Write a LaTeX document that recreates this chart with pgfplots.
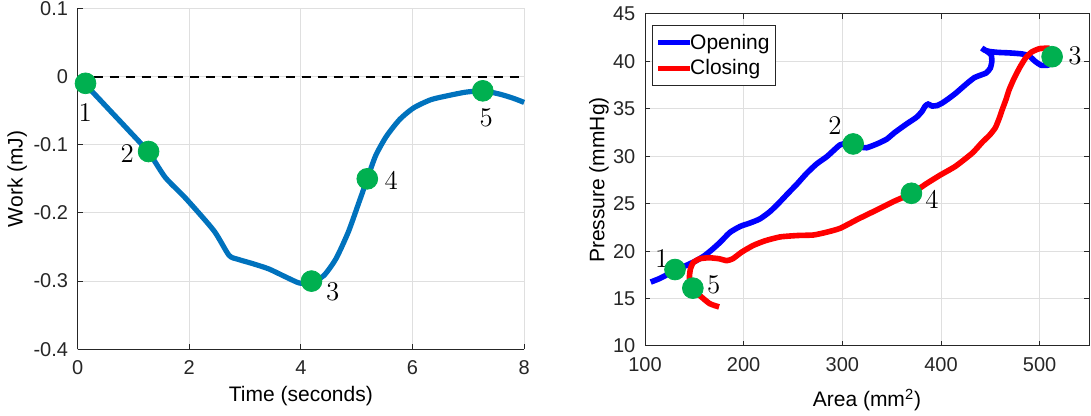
\documentclass[border=0pt]{standalone}
\usepackage{pgfplots}
\pgfplotsset{compat=1.18}
\usepackage{fontspec}
\setsansfont{Liberation Sans}
\definecolor{mblue}{RGB}{0,114,189}
\definecolor{mgreen}{RGB}{0,176,80}
\definecolor{axc}{RGB}{38,38,38}
\definecolor{gridc}{RGB}{223,223,223}
\begin{document}
\begin{tikzpicture}
\useasboundingbox (0,0) rectangle (545.5pt,208pt);
\pgfplotsset{
  common/.style={
    scale only axis,
    font=\fontsize{10}{12}\selectfont\sffamily,
    axis line style={axc, line width=0.5pt},
    tick style={axc, line width=0.5pt},
    major tick length=2.5pt,
    tick align=inside,
    grid=major,
    major grid style={gridc, line width=0.5pt},
    ticklabel style={text=axc},
    label style={font=\fontsize{10.5}{12}\selectfont\sffamily, text=black},
    yticklabel style={xshift=-1.3pt},
    xticklabel style={yshift=-2pt},
    clip=false,
  }
}
% ---------------- left axis ----------------
\begin{axis}[common,
  at={(38.85pt,33.35pt)}, anchor=south west,
  width=223.2pt, height=170.5pt,
  xmin=0, xmax=8, ymin=-0.4, ymax=0.1,
  axis x line*=bottom, axis y line*=left,
  xtick={0,2,4,6,8}, xticklabels={0,2,4,6,8},
  ytick={-0.4,-0.3,-0.2,-0.1,0,0.1},
  yticklabels={-0.4,-0.3,-0.2,-0.1,0,0.1},
  xlabel={Time (seconds)}, ylabel={Work (mJ)},
  xlabel style={at={(axis description cs:0.5,0)}, anchor=base, yshift=-26.2pt},
  ylabel style={at={(axis description cs:-0.1356,0.5)}, anchor=center},
]
\addplot[black, line width=1pt, dash pattern=on 4.5pt off 3.5pt] coordinates {(0,0) (8,0)};
\addplot[mblue, line width=2.6pt, smooth, tension=0.4] coordinates {
(0.14,-0.012) (0.27,-0.023) (0.58,-0.05) (0.89,-0.077) (1.27,-0.111) (1.57,-0.148)
(1.94,-0.179) (2.44,-0.226) (2.71,-0.262) (2.87,-0.268) (3.12,-0.274) (3.42,-0.282)
(3.73,-0.294) (3.98,-0.303) (4.19,-0.301) (4.41,-0.292) (4.63,-0.267) (4.85,-0.228)
(5.03,-0.187) (5.19,-0.15) (5.34,-0.116) (5.53,-0.088) (5.77,-0.063) (6.02,-0.046)
(6.33,-0.034) (6.64,-0.028) (6.95,-0.023) (7.26,-0.021) (7.57,-0.026) (7.81,-0.032)
(8.0,-0.038)};
\addplot[only marks, mark=*, mark size=5.2pt, mgreen, mark options={draw=mgreen, fill=mgreen}] coordinates {
(0.14,-0.01) (1.27,-0.11) (4.19,-0.30) (5.19,-0.15) (7.26,-0.021)};
\begin{scope}[font=\fontsize{13.5}{15}\selectfont\rmfamily]
\node at (axis cs:0.136,-0.053) {1};
\node at (axis cs:0.89,-0.113) {2};
\node at (axis cs:4.57,-0.316) {3};
\node at (axis cs:5.62,-0.152) {4};
\node at (axis cs:7.32,-0.060) {5};
\end{scope}
\end{axis}
% ---------------- right axis ----------------
\begin{axis}[common,
  at={(322.5pt,35pt)}, anchor=south west,
  width=222pt, height=166pt,
  xmin=100, xmax=550, ymin=10, ymax=45,
  xtick={100,200,300,400,500}, xticklabels={100,200,300,400,500},
  ytick={10,15,20,25,30,35,40,45}, yticklabels={10,15,20,25,30,35,40,45},
  xlabel={Area (mm\textsuperscript{2})}, ylabel={Pressure (mmHg)},
  xlabel style={at={(axis description cs:0.5,0)}, anchor=base, yshift=-30.5pt},
  ylabel style={at={(axis description cs:-0.104,0.5)}, anchor=center},
  legend style={at={(axis description cs:0,1)}, anchor=north west,
    xshift=3.65pt, yshift=-5.65pt, draw=axc, line width=0.5pt,
    font=\fontsize{10.5}{12}\selectfont\sffamily, inner xsep=1.5pt, inner ysep=2.5pt,
    nodes={inner xsep=1.2pt, inner ysep=1.5pt},
    /tikz/every odd column/.append style={column sep=-2.5pt},
    row sep=0.8pt, cells={anchor=west}},
  legend image code/.code={\draw[#1, line width=2.5pt] (0pt,0pt) -- (16pt,0pt);},
]
\addplot[blue, line width=2.8pt, smooth, tension=0.35] coordinates {
(105.8,16.74) (114.3,17.09) (122,17.5) (130.4,18.0) (142,18.5) (152,19.0) (160,19.5)
(167.2,20.1) (175.8,20.9) (186,21.97) (196.3,22.6) (206,22.95) (216.5,23.4) (227,24.2)
(236.8,25.2) (245,26.1) (254.3,27.1) (263.8,28.2) (274,29.2) (284.1,29.95) (291,30.6)
(297.6,31.2) (304,31.35) (311,31.27) (318,31.0) (324.6,30.9) (335,31.3) (344.9,31.8)
(353,32.5) (365,33.4) (375,34.1) (380.5,34.7) (384,35.3) (387,35.5) (391,35.3)
(396,35.35) (401,35.6) (408,36.1) (414.7,36.63) (421,37.2) (428.3,37.85) (434,38.3)
(440,38.55) (446,38.8) (450,39.3) (451.5,40.0) (450.8,40.7) (446,41.1) (441.5,41.4)
(444,41.2) (449,41.05) (458,40.95) (469,40.9) (481.4,40.8) (489,40.6) (495.5,40.0)
(501.5,39.6) (508,39.6) (513,39.8)};
\addlegendentry{Opening}
\addplot[red, line width=2.8pt, smooth, tension=0.35] coordinates {
(510,41.4) (500,41.35) (492,41.0) (486,40.4) (480,39.4) (474,38.2) (469,37.0)
(465.9,36.0) (462,34.9) (459,34.0) (455,33.0) (449,32.2) (442,31.5) (431.7,30.34)
(414.7,28.95) (398.9,28.0) (385,27.1) (370.2,26.07) (353.2,25.29) (336.2,24.41)
(315.7,23.37) (297.6,22.4) (283,21.97) (270.5,21.7) (255,21.65) (237,21.5) (222,21.1)
(209.7,20.6) (198,19.9) (189,19.2) (182.8,19.0) (175,19.2) (165,19.3) (155.7,19.2)
(149,18.8) (146,18.1) (145,17.2) (146.5,16.5) (149,16.0) (155.3,15.34) (165.5,14.47)
(175.1,14.12)};
\addlegendentry{Closing}
\addplot[only marks, mark=*, mark size=5.2pt, mgreen, mark options={draw=mgreen, fill=mgreen}, forget plot] coordinates {
(130.4,18.06) (311,31.3) (512.6,40.5) (370,26.1) (148.5,16.1)};
\begin{scope}[font=\fontsize{13.5}{15}\selectfont\rmfamily]
\node at (axis cs:117,19.2) {1};
\node at (axis cs:292.5,33.2) {2};
\node at (axis cs:535.8,40.64) {3};
\node at (axis cs:390.8,25.46) {4};
\node at (axis cs:169.6,16.4) {5};
\end{scope}
\end{axis}
\end{tikzpicture}
\end{document}
